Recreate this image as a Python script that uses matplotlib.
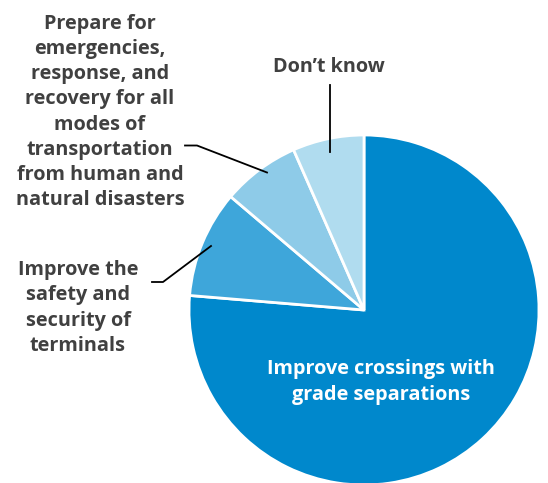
import matplotlib.pyplot as plt

# Anteile der Antworten (im Uhrzeigersinn ab 12 Uhr)
labels = ["Improve crossings with\ngrade separations",
          "Improve the\nsafety and\nsecurity of\nterminals",
          "Prepare for\nemergencies,\nresponse, and\nrecovery for all\nmodes of\ntransportation\nfrom human and\nnatural disasters",
          "Don\u2019t know"]
shares = [76.4, 9.9, 7.2, 6.6]
colors = ["#0088cc", "#3ea6da", "#8ecbe8", "#b0dcef"]

W, H = 548, 483
fig = plt.figure(figsize=(W / 100, H / 100), dpi=100)
ax = fig.add_axes([0, 0, 1, 1])

ax.pie(shares, colors=colors, startangle=90, counterclock=False,
       center=(364, H - 310), radius=175,
       wedgeprops=dict(edgecolor="white", linewidth=2))
ax.set_xlim(0, W)
ax.set_ylim(0, H)
ax.set_aspect("equal")
ax.axis("off")

txt = dict(family=["Open Sans", "DejaVu Sans"], fontweight="bold",
           fontsize=14.3, ha="center", va="center", linespacing=1.35)

# Beschriftungen
ax.text(381, H - 382, labels[0], color="white", **txt)
ax.text(78, H - 308, labels[1], color="#404040", **txt)
ax.text(100, H - 112, labels[2], color="#404040", **txt)
ax.text(329, H - 67, labels[3], color="#404040", **txt)

# Führungslinien
ax.plot([152, 163, 211], [H - 282, H - 282, H - 246], color="black", lw=1.3)
ax.plot([185, 197, 267], [H - 145.5, H - 145.5, H - 172.5], color="black", lw=1.3)
ax.plot([330, 330], [H - 85, H - 152], color="black", lw=1.3)

fig.savefig("out.png", dpi=100)
